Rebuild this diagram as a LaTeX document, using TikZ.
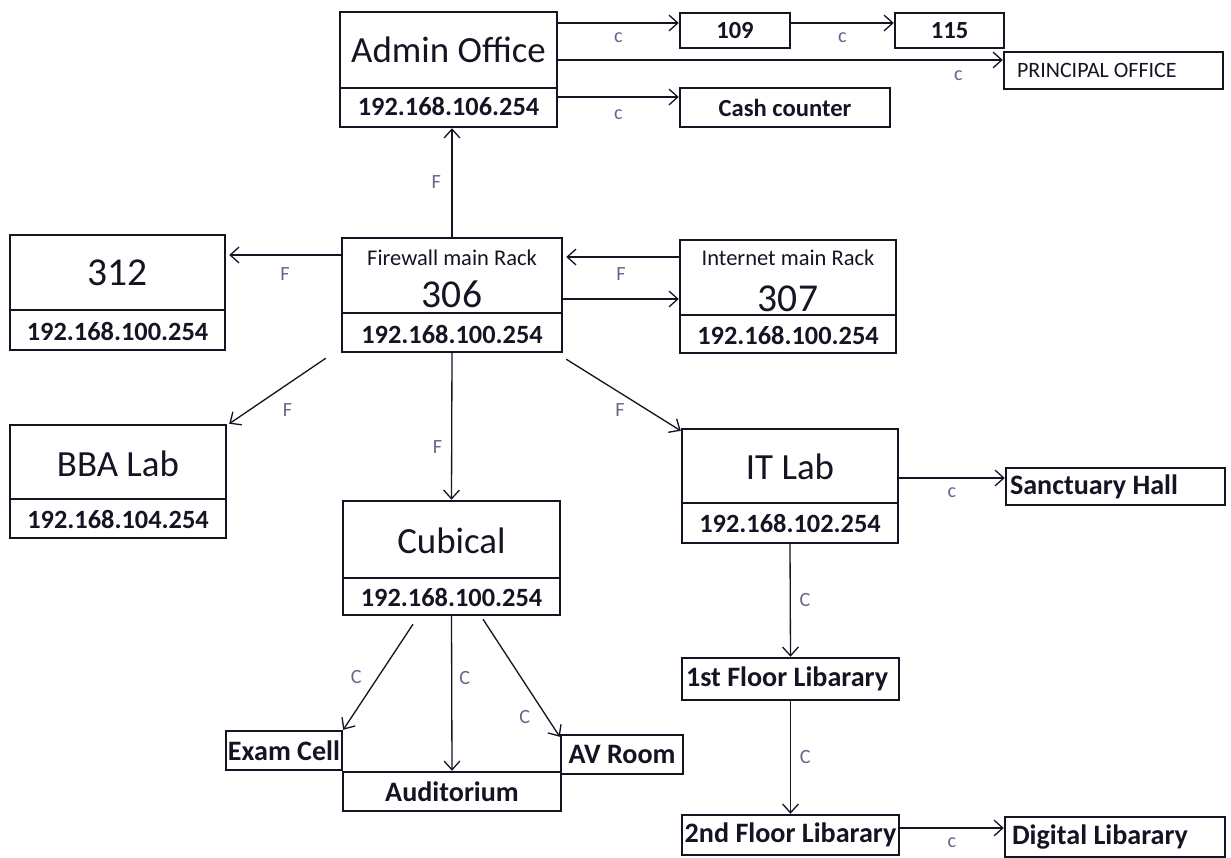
\documentclass[tikz,border=0pt]{standalone}
\usepackage{fontspec}
\setmainfont{Carlito}
\usetikzlibrary{arrows.meta}

\definecolor{ink}{RGB}{20,20,35}
\definecolor{tagc}{RGB}{100,105,140}

\tikzset{
  cell/.style 2 args={draw=ink, line width=1.4pt, inner sep=0pt,
    minimum width=#1*0.02cm, minimum height=#2*0.02cm},
  room/.style={font=\fontsize{16}{19}\selectfont\bfseries, text=ink},
  lcell/.style={text width=#1, align=flush left},
  big/.style={font=\fontsize{21}{25}\selectfont, text=ink, inner sep=0pt},
  num/.style={font=\fontsize{22.5}{26}\selectfont, text=ink, inner sep=0pt},
  ipt/.style={font=\fontsize{15}{18}\selectfont\bfseries, text=ink, inner sep=0pt},
  rack/.style={font=\fontsize{12.8}{15}\selectfont, text=ink, inner sep=0pt},
  link/.style={draw=ink, line width=0.75pt, -{Straight Barb[length=5pt,width=9pt]}},
  tag/.style={font=\fontsize{11.5}{13}\selectfont, text=tagc, inner sep=0pt},
  divider/.style={draw=ink, line width=0.8pt}
}

\begin{document}
\begin{tikzpicture}[x=0.02cm, y=-0.02cm]
\useasboundingbox (0,0) rectangle (1231,858);

% Admin office and its rooms
\node[cell={217}{115}] (admin) at (448.5,69.5) {};
\node[big] (adminname) at (448.5,50) {Admin Office};
\node[ipt] (adminip) at (448.5,107) {192.168.106.254};
\node[cell={110}{35}, room, font=\fontsize{14}{17}\selectfont\bfseries] (r109) at (735,30.5) {109};
\node[cell={109}{35}, room, font=\fontsize{14}{17}\selectfont\bfseries] (r115) at (949.5,30.5) {115};
\node[cell={219}{37}, lcell=3.86cm, font=\fontsize{12.5}{14}\selectfont, text=ink] (principal) at (1113.5,70.5) {PRINCIPAL OFFICE};
\node[cell={210}{39}, room, font=\fontsize{14}{17}\selectfont\bfseries] (cash) at (785,107.5) {Cash counter};

% Racks
\node[cell={215}{115}] (r312) at (117.5,292.5) {};
\node[num] (r312name) at (117.5,273) {312};
\node[ipt] (r312ip) at (117.5,331) {192.168.100.254};

\node[cell={220}{114}] (fw) at (452,295) {};
\node[rack] (fwname) at (452,258) {Firewall main Rack};
\node[num] (fwnum) at (452,294) {306};
\node[ipt] (fwip) at (452,334) {192.168.100.254};

\node[cell={216}{113}] (inet) at (788,296.5) {};
\node[rack] (inetname) at (788,258) {Internet main Rack};
\node[num] (inetnum) at (788,299) {307};
\node[ipt] (inetip) at (788,335) {192.168.100.254};

% Labs
\node[cell={216}{113}] (bba) at (118,481.5) {};
\node[big] (bbaname) at (118,464) {BBA Lab};
\node[ipt] (bbaip) at (118,519) {192.168.104.254};

\node[cell={217}{114}] (cub) at (451.5,558) {};
\node[big] (cubname) at (451.5,541) {Cubical};
\node[ipt] (cubip) at (451.5,597) {192.168.100.254};

\node[cell={216}{114}] (itlab) at (790,486) {};
\node[big] (itname) at (790,467) {IT Lab};
\node[ipt] (itip) at (790,523) {192.168.102.254};

\foreach \b/\d in {admin/88, r312/310, fw/313, inet/315, bba/499, cub/578, itlab/503}
  \draw[divider] (\b.west |- 0,\d) -- (\b.east |- 0,\d);

% Small rooms
\node[cell={219}{37}, room, lcell=4.22cm] (sanct) at (1115.5,486.5) {Sanctuary Hall};
\node[cell={217}{42}, room, lcell=4.18cm] (floor1) at (790.5,679) {1st Floor Libarary};
\node[cell={217}{40}, room] (floor2) at (790.5,835) {2nd Floor Libarary};
\node[cell={220}{40}, room, lcell=4.12cm] (digital) at (1115,837) {Digital Libarary};
\node[cell={116}{39}, room] (exam) at (284,750.5) {Exam Cell};
\node[cell={218}{39}, room] (audi) at (452,791.5) {Auditorium};
\node[cell={122}{39}, room] (avroom) at (622,754.5) {AV Room};

% Copper links from admin
\draw[link] ([shift={(0,-7.5)}]r109.west -| admin.east) -- ([shift={(0,-7.5)}]r109.west)
  node[tag, midway, below=5pt] (t1) {c};
\draw[link] ([shift={(0,-7.5)}]r109.east) -- ([shift={(0,-7.5)}]r115.west)
  node[tag, midway, below=5pt] (t2) {c};
\draw[link] ([shift={(0,-10.5)}]principal.west -| admin.east) -- ([shift={(0,-10.5)}]principal.west)
  node[tag, pos=.9, below=6pt] (t3) {c};
\draw[link] ([shift={(0,-10.5)}]cash.west -| admin.east) -- ([shift={(0,-10.5)}]cash.west)
  node[tag, midway, below=7pt] (t4) {c};

% Fibre links from the firewall rack
\draw[link] (fw.north) -- (fw.north |- admin.south)
  node[tag, midway, left=6pt] (t5) {F};
\draw[link] ([shift={(0,-40)}]fw.west) -- ([shift={(3,-40)}]fw.west -| r312.east)
  node[tag, midway, below=7pt] (t6) {F};
\draw[link] ([shift={(0,-39.5)}]inet.west) -- ([shift={(3,-39.5)}]inet.west -| fw.east);
\draw[link] ([shift={(0,4)}]fw.east) -- ([shift={(0,4)}]fw.east -| inet.west)
  node[tag, midway, above=10pt] (t7) {F};
\draw[link] ([shift={(-15,5)}]fw.south west) -- ([shift={(2,0)}]bba.north east)
  node[tag, midway, xshift=0.2cm, yshift=-0.38cm] (t8) {F};
\draw[link] (fw.south) -- (cub.north)
  node[tag, pos=.64, left=5pt] (t9) {F};
\draw[link] ([shift={(3,6)}]fw.south east) -- ([shift={(0,3)}]itlab.north west)
  node[tag, midway, xshift=-0.07cm, yshift=-0.3cm] (t10) {F};

% Copper links from the labs
\draw[link] ([shift={(0,-8.5)}]sanct.west -| itlab.east) -- ([shift={(0,-8.5)}]sanct.west)
  node[tag, midway, below=5pt] (t11) {c};
\draw[link] (itlab.south) -- (floor1.north)
  node[tag, midway, right=5pt] (t12) {C};
\draw[link] (floor1.south) -- (floor2.north)
  node[tag, midway, right=5pt] (t13) {C};
\draw[link] ([shift={(0,-9)}]digital.west -| floor2.east) -- ([shift={(0,-9)}]digital.west)
  node[tag, midway, below=5pt] (t14) {c};
\draw[link] ([shift={(-38.5,8)}]cub.south) -- (exam.north east)
  node[tag, midway, left=9pt] (t15) {C};
\draw[link] (cub.south) -- (audi.north)
  node[tag, pos=.4, right=4pt] (t16) {C};
\draw[link] ([shift={(31.5,3)}]cub.south) -- ([shift={(0,3)}]avroom.north west)
  node[tag, pos=.83, left=9pt] (t17) {C};
\end{tikzpicture}
\end{document}
